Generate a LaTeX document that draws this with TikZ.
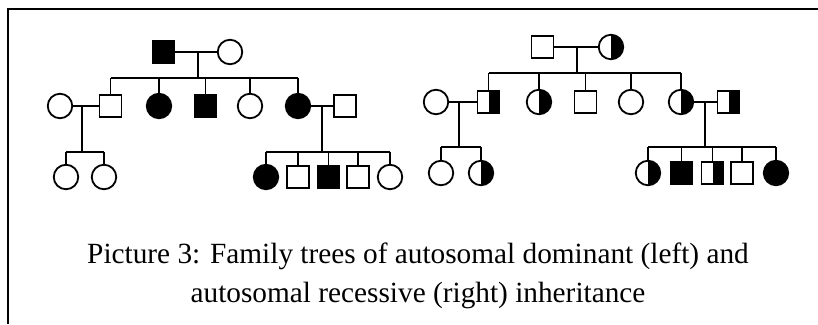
\documentclass[tikz,border=0pt]{standalone}
\usepackage{fontspec}
\setmainfont{Liberation Serif}
\begin{document}
\begin{tikzpicture}[x=1pt,y=-1pt,
 sym/.style={draw, line width=1.8pt, inner sep=0pt, outer sep=0pt},
 sq/.style={sym, rectangle, minimum size=22pt},
 ci/.style={sym, circle, minimum size=24.5pt},
 aff/.style={fill=black},
 car/.style={path picture={\fill[black] (path picture bounding box.north) rectangle (path picture bounding box.south east);}},
 ln/.style={line width=1.8pt},
 captext/.style={anchor=base, inner sep=0pt, font=\fontsize{29.3}{39}\selectfont}]
\useasboundingbox (0,0) rectangle (818,324);
% frame
\coordinate (F1) at (8,324);
\coordinate (F2) at (8,9);
\coordinate (F3) at (818,9);
\draw[line width=2pt] (F1) -- (F2) -- (F3);

% ===== left tree (dominant) =====
\node[sq,aff] (LF) at (163.5,52) {};
\node[ci] (LM) at (230,52) {};
\coordinate (L1) at (198,52);
\coordinate (L1b) at (198,78);
\draw[ln] (LF) -- (LM);
\draw[ln] (L1) -- (L1b);

\node[ci] (LAw) at (60,106) {};
\node[sq] (LA) at (110.5,106) {};
\node[ci,aff] (LB) at (159,106) {};
\node[sq,aff] (LC) at (205.5,106) {};
\node[ci] (LD) at (250,106) {};
\node[ci,aff] (LE) at (298,106) {};
\node[sq] (LEh) at (345,106) {};
\draw[ln] (LA.north |- L1b) -- (LE.north |- L1b);
\foreach \n in {LA,LB,LC,LD,LE} \draw[ln] (\n.north) -- (\n.north |- L1b);

\draw[ln] (LAw) -- (LA);
\coordinate (L2) at (82,106);
\coordinate (L2b) at (82,152);
\draw[ln] (L2) -- (L2b);
\node[ci] (LG1) at (66,177) {};
\node[ci] (LG2) at (104,177) {};
\draw[ln] (LG1.north |- L2b) -- (LG2.north |- L2b);
\foreach \n in {LG1,LG2} \draw[ln] (\n.north) -- (\n.north |- L2b);

\draw[ln] (LE) -- (LEh);
\coordinate (L3) at (322,106);
\coordinate (L3b) at (322,152);
\draw[ln] (L3) -- (L3b);
\node[ci,aff] (LH1) at (266,177) {};
\node[sq] (LH2) at (298,177) {};
\node[sq,aff] (LH3) at (328.5,177) {};
\node[sq] (LH4) at (358,177) {};
\node[ci] (LH5) at (390,177) {};
\draw[ln] (LH1.north |- L3b) -- (LH5.north |- L3b);
\foreach \n in {LH1,LH2,LH3,LH4,LH5} \draw[ln] (\n.north) -- (\n.north |- L3b);

% ===== right tree (recessive) =====
\node[sq] (RF) at (542.5,47) {};
\node[ci,car] (RM) at (611,47) {};
\coordinate (R1) at (577,47);
\coordinate (R1b) at (577,73);
\draw[ln] (RF) -- (RM);
\draw[ln] (R1) -- (R1b);

\node[ci] (RAw) at (436,102) {};
\node[sq,car] (RA) at (488.5,102) {};
\node[ci,car] (RB) at (539,102) {};
\node[sq] (RC) at (585.5,102) {};
\node[ci] (RD) at (631,102) {};
\node[ci,car] (RE) at (681,102) {};
\node[sq,car] (REh) at (728.5,102) {};
\draw[ln] (RA.north |- R1b) -- (RE.north |- R1b);
\foreach \n in {RA,RB,RC,RD,RE} \draw[ln] (\n.north) -- (\n.north |- R1b);

\draw[ln] (RAw) -- (RA);
\coordinate (R2) at (459,102);
\coordinate (R2b) at (459,147);
\draw[ln] (R2) -- (R2b);
\node[ci] (RG1) at (441,173) {};
\node[ci,car] (RG2) at (481,173) {};
\draw[ln] (RG1.north |- R2b) -- (RG2.north |- R2b);
\foreach \n in {RG1,RG2} \draw[ln] (\n.north) -- (\n.north |- R2b);

\draw[ln] (RE) -- (REh);
\coordinate (R3) at (705,102);
\coordinate (R3b) at (705,147);
\draw[ln] (R3) -- (R3b);
\node[ci,car] (RH1) at (648,173) {};
\node[sq,aff] (RH2) at (681.5,173) {};
\node[sq,car] (RH3) at (712.5,173) {};
\node[sq] (RH4) at (742,173) {};
\node[ci,aff] (RH5) at (776,173) {};
\draw[ln] (RH1.north |- R3b) -- (RH5.north |- R3b);
\foreach \n in {RH1,RH2,RH3,RH4,RH5} \draw[ln] (\n.north) -- (\n.north |- R3b);

% caption
\node[captext] (cap1) at (418,263) {Picture 3: Family trees of autosomal dominant (left) and};
\node[captext] (cap2) at (418,302) {autosomal recessive (right) inheritance};
\end{tikzpicture}
\end{document}
